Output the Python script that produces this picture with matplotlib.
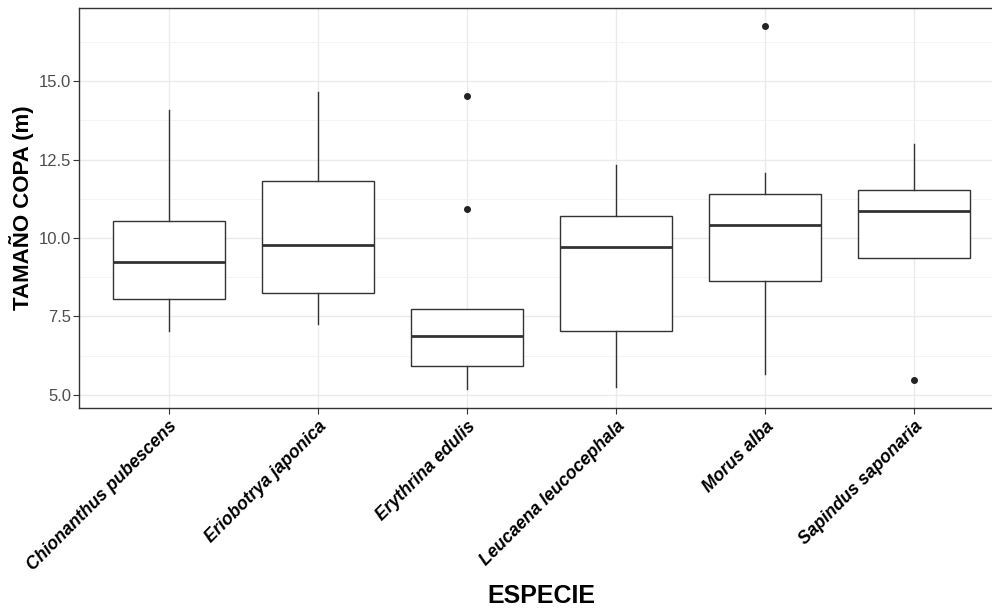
import matplotlib.pyplot as plt

# Data
species = ['Chionanthus pubescens', 'Eriobotrya japonica', 'Erythrina edulis',
           'Leucaena leucocephala', 'Morus alba', 'Sapindus saponaria']
whislo = [7.04, 7.25, 5.17, 5.25, 5.65, 9.36]
q1 = [8.06, 8.24, 5.91, 7.05, 8.64, 9.36]
med = [9.22, 9.78, 6.86, 9.71, 10.41, 10.86]
q3 = [10.55, 11.82, 7.74, 10.69, 11.39, 11.54]
whishi = [14.07, 14.65, 7.74, 12.32, 12.07, 13.01]
fliers = [[], [], [14.52, 10.92], [], [16.76], [5.48]]

yticks = [5.0, 7.5, 10.0, 12.5, 15.0]
minor_yticks = [6.25, 8.75, 11.25, 13.75, 16.25]

plt.rcParams['font.family'] = ['Liberation Sans', 'DejaVu Sans']

stats = []
for i in range(len(species)):
    stats.append({'label': species[i], 'whislo': whislo[i], 'q1': q1[i],
                  'med': med[i], 'q3': q3[i], 'whishi': whishi[i],
                  'fliers': fliers[i]})

fig = plt.figure(figsize=(9.92, 6.1), dpi=100)
# panel runs a bit past the right edge of the image, as in the reference
ax = fig.add_axes([0.0799, 0.331, 0.932, 0.656])

ax.set_axisbelow(True)
ax.grid(True, which='major', color='#ebebeb', linewidth=1.0)
ax.set_yticks(minor_yticks, minor=True)
ax.grid(True, which='minor', axis='y', color='#f2f2f2', linewidth=0.6)

line_col = '#333333'
ax.bxp(stats, positions=range(1, len(species) + 1), widths=0.75,
       patch_artist=True, showcaps=False,
       boxprops=dict(facecolor='white', edgecolor=line_col, linewidth=1.0),
       whiskerprops=dict(color=line_col, linewidth=1.0),
       medianprops=dict(color=line_col, linewidth=2.0),
       flierprops=dict(marker='o', markerfacecolor='#222222',
                       markeredgecolor='#222222', markersize=4))

ax.set_xlim(0.4, 6.6)
ax.set_ylim(4.576, 17.34)
ax.set_yticks(yticks)
ax.set_yticklabels([f'{v:.1f}' for v in yticks])
ax.set_xticks(range(1, len(species) + 1))
ax.set_xticklabels(species, rotation=45, ha='right', va='top',
                   rotation_mode='anchor', fontsize=12.7, fontweight='bold',
                   fontstyle='italic', color='black')

ax.tick_params(axis='y', which='major', labelsize=12, labelcolor='#4d4d4d',
               color=line_col, length=4, width=0.8, pad=2)
ax.tick_params(axis='y', which='minor', length=0)
ax.tick_params(axis='x', color=line_col, length=4, width=0.8, pad=3)

for s in ax.spines.values():
    s.set_color(line_col)
    s.set_linewidth(1.0)

ax.set_ylabel('TAMAÑO COPA (m)', fontsize=16, fontweight='bold', labelpad=3)
fig.text(541.5 / 992, 1 - 596 / 610, 'ESPECIE', fontsize=18, fontweight='bold',
         ha='center', va='center')

fig.savefig('out.png', dpi=100)
